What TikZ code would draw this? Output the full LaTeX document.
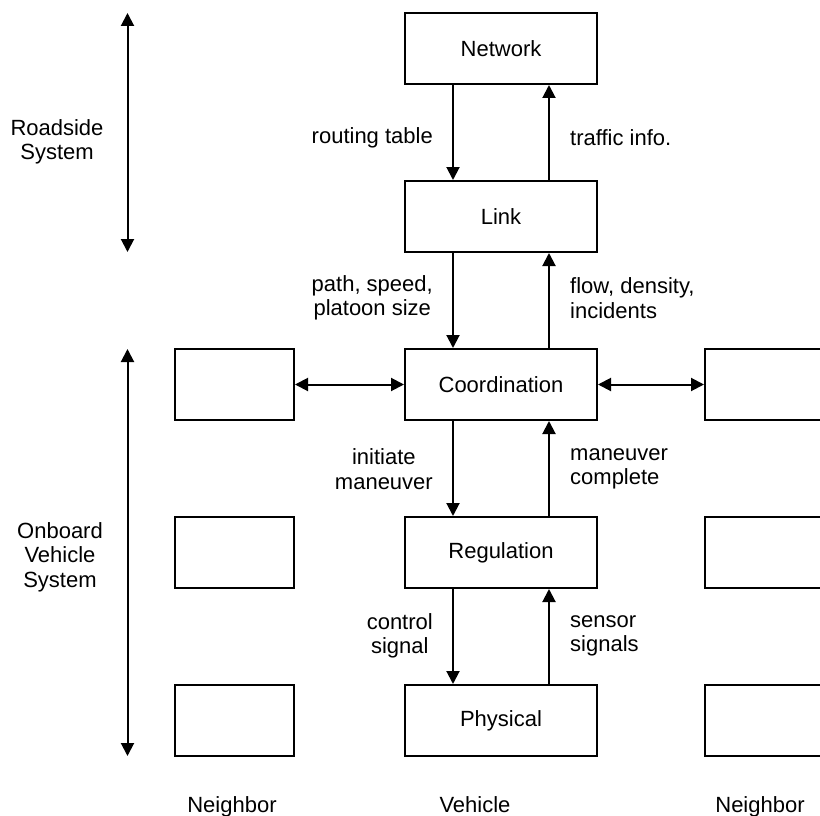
\documentclass[tikz,border=0pt]{standalone}
\usepackage{fontspec}
\setmainfont{Liberation Sans}
\usetikzlibrary{arrows.meta}
\begin{document}
\begin{tikzpicture}[x=1pt,y=-1pt,
  font=\fontsize{22}{24.5}\selectfont,
  layer/.style={draw,line width=2pt,minimum width=192pt,minimum height=71pt,inner sep=0pt},
  nbox/.style={draw,line width=2pt,minimum width=119pt,minimum height=71pt,inner sep=0pt},
  flow/.style={line width=2pt,-{Triangle[length=13pt,width=13pt]}},
  both/.style={line width=2pt,{Triangle[length=13pt,width=13pt]}-{Triangle[length=13pt,width=13pt]}},
  lbl/.style={inner sep=0pt,align=center,anchor=east},
  rbl/.style={inner sep=0pt,align=left,anchor=west},
  side/.style={inner sep=0pt,align=center},
  caption/.style={inner sep=0pt,anchor=base}]
\useasboundingbox (0,0) rectangle (820,816);

% vehicle hierarchy
\node[layer] (net)   at (501,48.5)  {Network};
\node[layer] (link)  at (501,216.5) {Link};
\node[layer] (coord) at (501,384.5) {Coordination};
\node[layer] (reg)   at (501,552.5) {Regulation};
\node[layer] (phys)  at (501,720.5) {Physical};

% neighbouring vehicles
\node[nbox] (lc) at (234.5,384.5) {};
\node[nbox] (lr) at (234.5,552.5) {};
\node[nbox] (lp) at (234.5,720.5) {};
\node[nbox] (rc) at (764.5,384.5) {};
\node[nbox] (rr) at (764.5,552.5) {};
\node[nbox] (rp) at (764.5,720.5) {};

% commands down, reports up
\draw[flow] ([xshift=-48pt]net.south)   -- ([xshift=-48pt]link.north);
\draw[flow] ([xshift=48pt]link.north)   -- ([xshift=48pt]net.south);
\draw[flow] ([xshift=-48pt]link.south)  -- ([xshift=-48pt]coord.north);
\draw[flow] ([xshift=48pt]coord.north)  -- ([xshift=48pt]link.south);
\draw[flow] ([xshift=-48pt]coord.south) -- ([xshift=-48pt]reg.north);
\draw[flow] ([xshift=48pt]reg.north)    -- ([xshift=48pt]coord.south);
\draw[flow] ([xshift=-48pt]reg.south)   -- ([xshift=-48pt]phys.north);
\draw[flow] ([xshift=48pt]phys.north)   -- ([xshift=48pt]reg.south);

% coordination with neighbours
\draw[both] (lc.east) -- (coord.west);
\draw[both] (coord.east) -- (rc.west);

% flow labels
\node[lbl] (l1) at (433,138) {routing table};
\node[rbl] (r1) at (570,138) {traffic info.};
\node[lbl] (l2) at (433,298) {path, speed,\\platoon size};
\node[rbl] (r2) at (570,298) {flow, density,\\incidents};
\node[lbl] (l3) at (433,469) {initiate\\maneuver};
\node[rbl] (r3) at (570,469) {maneuver\\complete};
\node[lbl] (l4) at (433,636) {control\\signal};
\node[rbl] (r4) at (570,636) {sensor\\signals};

% system extents
\coordinate (rsTop) at (127.5,13);
\coordinate (rsBot) at (127.5,252);
\coordinate (obTop) at (127.5,349);
\coordinate (obBot) at (127.5,756);
\draw[both] (rsTop) -- (rsBot);
\draw[both] (obTop) -- (obBot);
\node[side] (rs) at (57,142) {Roadside\\System};
\node[side] (ob) at (60,557) {Onboard\\Vehicle\\System};

% column captions
\node[caption] (cl) at (232,812) {Neighbor};
\node[caption] (cv) at (475,812) {Vehicle};
\node[caption] (cr) at (760,812) {Neighbor};
\end{tikzpicture}
\end{document}
